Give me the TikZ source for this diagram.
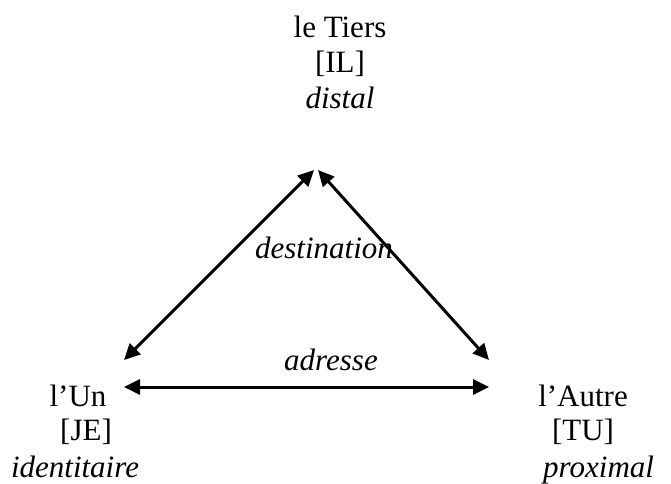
\documentclass[tikz,border=0pt]{standalone}
\usepackage{fontspec}
\setmainfont{Liberation Serif}
\usetikzlibrary{arrows.meta}
\begin{document}
\begin{tikzpicture}[x=1pt,y=-1pt,
  lbl/.style={anchor=base,inner sep=0pt,font=\fontsize{31}{35}\selectfont},
  it/.style={lbl,font=\fontsize{31}{35}\selectfont\itshape},
  conn/.style={line width=3pt,{Triangle[length=16pt,width=15pt]}-{Triangle[length=16pt,width=15pt]}}]
\useasboundingbox (0,0) rectangle (671,483);
% top
\node[lbl] (tiers) at (340,37) {le Tiers};
\node[lbl] (il) at (340,72) {[IL]};
\node[it] (distal) at (340,108) {distal};
% bottom left
\node[lbl] (un) at (78,406) {l’Un};
\node[lbl] (je) at (86,440) {[JE]};
\node[it] (ident) at (75,477) {identitaire};
% bottom right
\node[lbl] (autre) at (583,406) {l’Autre};
\node[lbl] (tu) at (583,440) {[TU]};
\node[it,anchor=base west] (prox) at (543,477) {proximal};
% connector ends
\coordinate (apexL) at (314,170);
\coordinate (apexR) at (318,170);
\coordinate (cornerL) at (124,360);
\coordinate (cornerR) at (489,360);
\coordinate (hL) at (124,387);
\coordinate (hR) at (489,387);
\draw[conn] (cornerL) -- (apexL);
\draw[conn] (cornerR) -- (apexR);
\draw[conn] (hL) -- (hR);
% labels
\node[it] (dest) at (324,258) {destination};
\node[it] (adr) at (331,370) {adresse};
\end{tikzpicture}
\end{document}
